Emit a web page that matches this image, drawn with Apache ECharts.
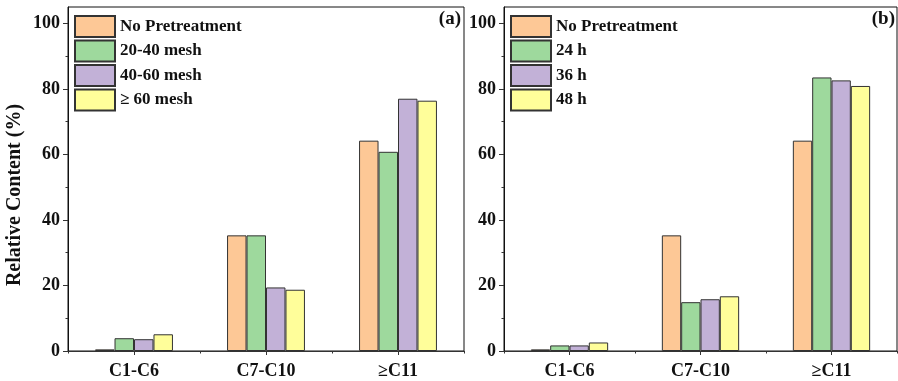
<!DOCTYPE html>
<html>
<head>
<meta charset="utf-8">
<script src="https://cdn.jsdelivr.net/npm/echarts@6/dist/echarts.min.js"></script>
<style>html,body{margin:0;padding:0;background:#fff;}#c{width:898px;height:381px;}</style>
</head>
<body>
<div id="c"></div>
<script>
const categories = ['C1-C6', 'C7-C10', '≥C11'];
const namesA = ['No Pretreatment', '20-40 mesh', '40-60 mesh', '≥ 60 mesh'];
const namesB = ['No Pretreatment', '24 h', '36 h', '48 h'];
const noPretreatA = [0.5, 35.3, 64.2];
const mesh2040 = [3.9, 35.3, 60.8];
const mesh4060 = [3.6, 19.4, 77.0];
const mesh60 = [5.1, 18.7, 76.4];
const noPretreatB = [0.5, 35.3, 64.2];
const h24 = [1.7, 14.9, 83.5];
const h36 = [1.7, 15.8, 82.6];
const h48 = [2.6, 16.7, 80.9];
const yMajorTicks = [0, 20, 40, 60, 80, 100];
const yMinorTicks = [10, 30, 50, 70, 90];
const colors = ['#FDC896', '#9ED99D', '#C2B1D7', '#FFFE9A'];

const FONT = 'Liberation Serif';
const chart = echarts.init(document.getElementById('c'));

function xAxes(gi) {
  return [
    {
      type: 'category', gridIndex: gi, data: categories, position: 'bottom',
      axisLine: { show: true, lineStyle: { color: '#333', width: 1 } },
      axisTick: { show: true, alignWithLabel: true, length: 4, lineStyle: { color: '#333' } },
      axisLabel: { margin: 11, color: '#111', fontFamily: FONT, fontWeight: 'bold', fontSize: 18 },
      splitLine: { show: false }
    },
    {
      type: 'category', gridIndex: gi, data: categories, position: 'bottom',
      axisLine: { show: false },
      axisTick: { show: true, alignWithLabel: false, length: 2.5, lineStyle: { color: '#333' } },
      axisLabel: { show: false },
      splitLine: { show: false }
    }
  ];
}
function yAxes(gi, withName) {
  const main = {
    type: 'value', gridIndex: gi, min: 0, max: 105, interval: 20, position: 'left',
    axisLine: { show: true, lineStyle: { color: '#111', width: 1 } },
    axisTick: { show: true, length: 5, customValues: yMajorTicks, lineStyle: { color: '#333' } },
    axisLabel: { customValues: yMajorTicks, margin: 8, color: '#111', fontFamily: FONT, fontWeight: 'bold', fontSize: 18 },
    splitLine: { show: false }
  };
  if (withName) {
    main.name = 'Relative Content (%)';
    main.nameLocation = 'middle';
    main.nameGap = 43;
    main.nameTextStyle = { fontFamily: FONT, fontWeight: 'bold', fontSize: 20, color: '#111', padding: [0, 32, 0, 0] };
  }
  return [main, {
    type: 'value', gridIndex: gi, min: 0, max: 105, interval: 10, position: 'left', offset: 0,
    axisLine: { show: false },
    axisTick: { show: true, length: 2.5, customValues: yMinorTicks, lineStyle: { color: '#333' } },
    axisLabel: { show: false },
    splitLine: { show: false }
  }];
}
function barSeries(names, dataList, xi, yi) {
  return names.map((n, i) => ({
    type: 'bar', name: n, xAxisIndex: xi, yAxisIndex: yi,
    data: dataList[i], barGap: '0%', barCategoryGap: '41%',
    itemStyle: { color: colors[i], borderColor: '#333', borderWidth: 1 },
    emphasis: { disabled: true }
  }));
}
const legendCommon = {
  orient: 'vertical', top: 15, padding: 0, itemWidth: 40, itemHeight: 21, itemGap: 1.5,
  icon: 'rect',
  textStyle: { fontFamily: FONT, fontWeight: 'bold', fontSize: 17, lineHeight: 21, color: '#111' },
  selectedMode: false
};

chart.setOption({
  animation: false,
  grid: [
    { left: 68, top: 7, width: 396, height: 344, show: true, borderColor: '#111', borderWidth: 1, backgroundColor: 'transparent' },
    { left: 504, top: 7, width: 393, height: 344, show: true, borderColor: '#111', borderWidth: 1, backgroundColor: 'transparent' }
  ],
  xAxis: [...xAxes(0), ...xAxes(1)],
  yAxis: [...yAxes(0, true), ...yAxes(1, false)],
  legend: [
    Object.assign({ left: 74, data: namesA }, legendCommon),
    Object.assign({ left: 510, data: namesB }, legendCommon)
  ],
  graphic: [
    { type: 'text', right: 898 - 461, top: 10, style: { text: '(a)', fontFamily: FONT, fontWeight: 'bold', fontSize: 19, fill: '#111' } },
    { type: 'text', right: 3, top: 10, style: { text: '(b)', fontFamily: FONT, fontWeight: 'bold', fontSize: 19, fill: '#111' } }
  ],
  series: [
    ...barSeries(namesA, [noPretreatA, mesh2040, mesh4060, mesh60], 0, 0),
    ...barSeries(namesB, [noPretreatB, h24, h36, h48], 2, 2)
  ]
});
</script>
</body>
</html>
